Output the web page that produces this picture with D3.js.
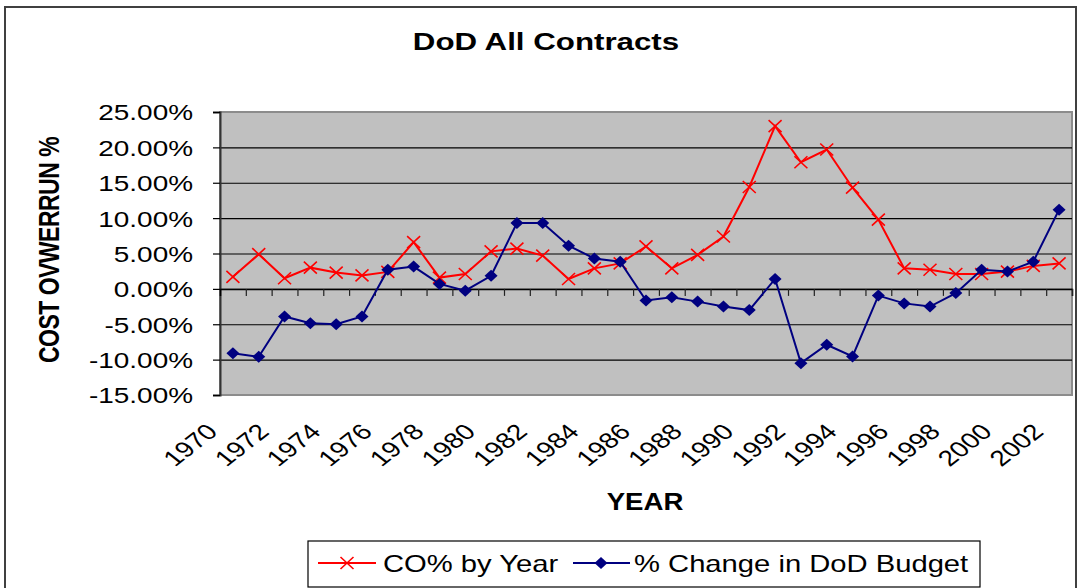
<!DOCTYPE html>
<html>
<head>
<meta charset="utf-8">
<script src="https://cdn.jsdelivr.net/npm/d3@7"></script>
<style>
	body { margin: 0; background: #fff; }
	text { font-family: "Liberation Sans", Arial, sans-serif; fill: #000; }
</style>
</head>
<body>
<script>
var years = [1970, 1971, 1972, 1973, 1974, 1975, 1976, 1977, 1978, 1979,
             1980, 1981, 1982, 1983, 1984, 1985, 1986, 1987, 1988, 1989,
             1990, 1991, 1992, 1993, 1994, 1995, 1996, 1997, 1998, 1999,
             2000, 2001, 2002];
// CO% by Year (red)
var coByYear = [1.7, 4.9, 1.5, 3.0, 2.3, 1.9, 2.4, 6.6, 1.6, 2.1,
                5.3, 5.7, 4.7, 1.4, 2.9, 3.6, 6.0, 2.9, 4.8, 7.4,
                14.4, 23.0, 17.9, 19.7, 14.3, 9.8, 2.9, 2.7, 2.1, 2.1,
                2.45, 3.25, 3.6];
// % Change in DoD Budget (blue)
var budgetChange = [-9.1, -9.6, -3.9, -4.85, -5.0, -3.9, 2.7, 3.15, 0.7, -0.25,
                    1.85, 9.3, 9.3, 6.1, 4.3, 3.85, -1.65, -1.2, -1.8, -2.5,
                    -3.0, 1.4, -10.5, -7.9, -9.55, -0.95, -2.05, -2.5, -0.6, 2.7,
                    2.45, 3.85, 11.2];
var yTicks = [-15, -10, -5, 0, 5, 10, 15, 20, 25];
var xTickLabels = ["1970", "1972", "1974", "1976", "1978", "1980", "1982", "1984", "1986",
                   "1988", "1990", "1992", "1994", "1996", "1998", "2000", "2002"];
var seriesNames = ["CO% by Year", "% Change in DoD Budget"];

var drawChart = function() {
	var W = 1079, H = 588;
	var pLeft = 220, pRight = 1072, pTop = 112, pBottom = 395;
	var sx = 1.27; // picture is stretched sideways

	var svg = d3.select("body").append("svg")
		.attr("width", W)
		.attr("height", H)
		;

	// chart frame
	svg.append("rect")
		.attr("x", 5).attr("y", 7)
		.attr("width", 1071).attr("height", 620)
		.attr("fill", "#fff")
		.attr("stroke", "#404040")
		.attr("stroke-width", 2)
		;

	var x = d3.scaleBand().domain(years).range([pLeft, pRight]);
	var xEdge = d3.scaleLinear().domain([0, years.length]).range([pLeft, pRight]);
	var y = d3.scaleLinear().domain([-15, 25]).range([pBottom, pTop]);
	var cx = function(yr) { return x(yr) + x.bandwidth() / 2; };

	// plot area
	svg.append("rect")
		.attr("x", pLeft).attr("y", pTop)
		.attr("width", pRight - pLeft).attr("height", pBottom - pTop)
		.attr("fill", "#c0c0c0")
		.attr("stroke", "#8c8c8c")
		.attr("stroke-width", 2)
		;

	// gridlines
	svg.append("g")
		.attr("transform", "translate(" + pLeft + ",0)")
		.call(d3.axisLeft(y).tickValues(yTicks.slice(1, -1)).tickSize(-(pRight - pLeft)).tickFormat(""))
		.call(function(g) {
			g.select(".domain").remove();
			g.selectAll("line").attr("stroke", "#000").attr("stroke-width", 1.2);
		})
		;

	// y axis
	var yAxis = svg.append("g")
		.attr("transform", "translate(" + pLeft + ",0)")
		.call(d3.axisLeft(y).tickValues(yTicks).tickSize(7).tickFormat(function(d) { return d.toFixed(2) + "%"; }))
		;
	yAxis.select(".domain").attr("stroke", "#333").attr("stroke-width", 2);
	yAxis.selectAll("line").attr("stroke", "#000").attr("stroke-width", 1.2);
	yAxis.selectAll("text")
		.attr("x", -27 / sx)
		.attr("dy", "0.36em")
		.attr("transform", "scale(" + sx + ",1)")
		.attr("font-size", "22px")
		.attr("font-family", "Liberation Sans, Arial, sans-serif")
		;

	// x axis at zero, ticks at category edges
	var xAxis = svg.append("g")
		.attr("transform", "translate(0," + y(0) + ")")
		.call(d3.axisBottom(xEdge).tickValues(d3.range(1, years.length + 1)).tickSize(7).tickFormat(""))
		;
	xAxis.select(".domain").attr("stroke", "#000").attr("stroke-width", 1.5);
	xAxis.selectAll("line").attr("stroke", "#222").attr("stroke-width", 1.2);

	// x labels below plot
	var xLab = svg.append("g")
		.attr("transform", "translate(0," + pBottom + ")")
		.call(d3.axisBottom(x).tickValues(xTickLabels.map(Number)).tickSize(0))
		;
	xLab.select(".domain").remove();
	xLab.selectAll("text")
		.attr("x", null).attr("y", null).attr("dy", null)
		.attr("text-anchor", "end")
		.attr("transform", "translate(-14,38) scale(" + sx + ",1) rotate(-45)")
		.attr("font-size", "22px")
		.attr("font-family", "Liberation Sans, Arial, sans-serif")
		;

	// lines
	var line = d3.line()
		.x(function(d) { return cx(d[0]); })
		.y(function(d) { return y(d[1]); })
		;
	var redPts = d3.zip(years, coByYear);
	var bluePts = d3.zip(years, budgetChange);

	svg.append("path")
		.attr("d", line(redPts))
		.attr("fill", "none")
		.attr("stroke", "#ff0000")
		.attr("stroke-width", 2)
		;
	svg.selectAll("path.xm")
		.data(redPts)
		.enter()
		.append("path")
		.attr("class", "xm")
		.attr("d", "M-6.5,-6L6.5,6M-6.5,6L6.5,-6")
		.attr("transform", function(d) { return "translate(" + cx(d[0]) + "," + y(d[1]) + ")"; })
		.attr("stroke", "#ff0000")
		.attr("stroke-width", 1.6)
		;

	svg.append("path")
		.attr("d", line(bluePts))
		.attr("fill", "none")
		.attr("stroke", "#000080")
		.attr("stroke-width", 2)
		;
	svg.selectAll("path.dm")
		.data(bluePts)
		.enter()
		.append("path")
		.attr("class", "dm")
		.attr("d", "M0,-6L6.5,0L0,6L-6.5,0Z")
		.attr("transform", function(d) { return "translate(" + cx(d[0]) + "," + y(d[1]) + ")"; })
		.attr("fill", "#000080")
		;

	// titles
	svg.append("text")
		.text("DoD All Contracts")
		.attr("transform", "translate(546,50) scale(1.36,1)")
		.attr("text-anchor", "middle")
		.attr("font-size", "23px")
		.attr("font-weight", "bold")
		;
	svg.append("text")
		.text("YEAR")
		.attr("transform", "translate(645,510) scale(1.2,1)")
		.attr("text-anchor", "middle")
		.attr("font-size", "23px")
		.attr("font-weight", "bold")
		;
	svg.append("text")
		.text("COST OVWERRUN %")
		.attr("transform", "translate(59,250) scale(1.25,1) rotate(-90)")
		.attr("text-anchor", "middle")
		.attr("font-size", "23px")
		.attr("font-weight", "bold")
		.attr("letter-spacing", "-0.5px")
		;

	// legend
	var lg = svg.append("g");
	lg.append("rect")
		.attr("x", 308).attr("y", 541)
		.attr("width", 672).attr("height", 46)
		.attr("fill", "#fff")
		.attr("stroke", "#000")
		.attr("stroke-width", 1.2)
		;
	lg.append("line")
		.attr("x1", 318).attr("x2", 376).attr("y1", 563).attr("y2", 563)
		.attr("stroke", "#ff0000").attr("stroke-width", 2)
		;
	lg.append("path")
		.attr("d", "M-6.5,-6L6.5,6M-6.5,6L6.5,-6")
		.attr("transform", "translate(347,563)")
		.attr("stroke", "#ff0000").attr("stroke-width", 1.6)
		;
	lg.append("text")
		.text(seriesNames[0])
		.attr("transform", "translate(383,572) scale(" + sx + ",1)")
		.attr("font-size", "23px")
		;
	lg.append("line")
		.attr("x1", 573).attr("x2", 630).attr("y1", 563).attr("y2", 563)
		.attr("stroke", "#000080").attr("stroke-width", 2)
		;
	lg.append("path")
		.attr("d", "M0,-6L6.5,0L0,6L-6.5,0Z")
		.attr("transform", "translate(601,563)")
		.attr("fill", "#000080")
		;
	lg.append("text")
		.text(seriesNames[1])
		.attr("transform", "translate(634,572) scale(" + sx + ",1)")
		.attr("font-size", "23px")
		;
};

drawChart();
</script>
</body>
</html>
